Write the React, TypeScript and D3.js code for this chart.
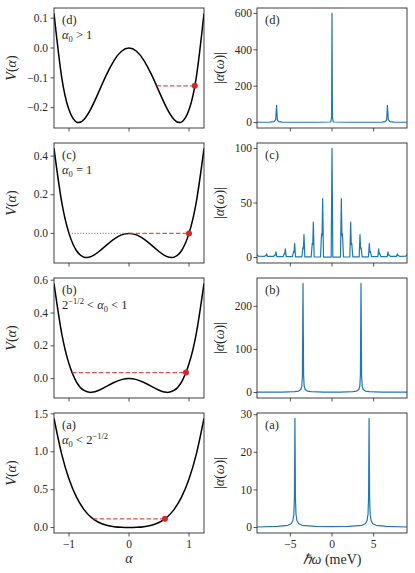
import React from 'react';
import * as d3 from 'd3';

const alphaGrid = [-1.25, -1.125, -1, -0.875, -0.75, -0.625, -0.5, -0.375, -0.25, -0.125, 0,
    0.125, 0.25, 0.375, 0.5, 0.625, 0.75, 0.875, 1, 1.125, 1.25];
const potentialD = [0.1158, -0.094, -0.2071, -0.2483, -0.2395, -0.1999, -0.1455, -0.0895, -0.0422, -0.0109, 0,
    -0.0109, -0.0422, -0.0895, -0.1455, -0.1999, -0.2395, -0.2483, -0.2071, -0.094, 0.1158];
const potentialC = [0.4395, 0.1681, 0, -0.0897, -0.123, -0.119, -0.0938, -0.0604, -0.0293, -0.0077, 0,
    -0.0077, -0.0293, -0.0604, -0.0938, -0.119, -0.123, -0.0897, 0, 0.1681, 0.4395];
const potentialB = [0.5801, 0.282, 0.09, -0.0208, -0.0724, -0.0839, -0.0713, -0.0478, -0.0237, -0.0063, 0,
    -0.0063, -0.0237, -0.0478, -0.0713, -0.0839, -0.0724, -0.0208, 0.09, 0.282, 0.5801];
const potentialA = [1.4395, 0.9781, 0.64, 0.4003, 0.237, 0.131, 0.0663, 0.0296, 0.0107, 0.0023, 0,
    0.0023, 0.0107, 0.0296, 0.0663, 0.131, 0.237, 0.4003, 0.64, 0.9781, 1.4395];
// true minima of the wells (fall between grid samples)
const wellBottoms = [-0.25, -0.125, -0.085, 0];

// energy level (red dashed line) and turning points
const levelEnergy = [-0.127, 0, 0.037, 0.115];
const levelFrom = [0.46, 0, -0.95, -0.6];
const levelTo = [1.097, 1, 0.95, 0.6];

// spectra |alpha(omega)|
const spectrumD: [number, number][] = [
    [-9, 1.5], [-7.4, 2.5], [-6.95, 5], [-6.76, 16], [-6.65, 95], [-6.56, 16], [-6.4, 5], [-6, 2.5],
    [-2, 1.5], [-0.15, 3], [-0.05, 30], [0, 600], [0.05, 30], [0.15, 3], [2, 1.5],
    [6, 2.5], [6.4, 5], [6.56, 16], [6.65, 95], [6.76, 16], [6.95, 5], [7.4, 2.5], [9, 1.5],
];
const spectrumC: [number, number][] = [
    [-9, 2], [-8.96, 2.2], [-8.86, 1.2],
    [-8.1, 1.1], [-7.97, 1.9], [-7.91, 1.7], [-7.84, 3.4], [-7.74, 1],
    [-6.98, 1], [-6.85, 2.5], [-6.79, 2.3], [-6.72, 5.2], [-6.62, 0.9],
    [-5.86, 0.9], [-5.73, 3.6], [-5.67, 3.2], [-5.6, 8], [-5.5, 0.8],
    [-4.74, 0.8], [-4.61, 5.6], [-4.55, 5], [-4.48, 13], [-4.38, 0.7],
    [-3.62, 0.7], [-3.49, 9], [-3.43, 8], [-3.36, 21], [-3.26, 0.6],
    [-2.5, 0.6], [-2.37, 13], [-2.31, 12], [-2.24, 32.5], [-2.14, 0.5],
    [-1.38, 0.5], [-1.25, 22], [-1.19, 20], [-1.12, 54], [-1.02, 0.4],
    [-0.1, 0.4], [0, 100], [0.1, 0.4],
    [1.02, 0.4], [1.12, 54], [1.19, 20], [1.25, 22], [1.38, 0.5],
    [2.14, 0.5], [2.24, 32.5], [2.31, 12], [2.37, 13], [2.5, 0.6],
    [3.26, 0.6], [3.36, 21], [3.43, 8], [3.49, 9], [3.62, 0.7],
    [4.38, 0.7], [4.48, 13], [4.55, 5], [4.61, 5.6], [4.74, 0.8],
    [5.5, 0.8], [5.6, 8], [5.67, 3.2], [5.73, 3.6], [5.86, 0.9],
    [6.62, 0.9], [6.72, 5.2], [6.79, 2.3], [6.85, 2.5], [6.98, 1],
    [7.74, 1], [7.84, 3.4], [7.91, 1.7], [7.97, 1.9], [8.1, 1.1],
    [8.86, 1.2], [8.96, 2.2], [9, 2],
];
const spectrumB: [number, number][] = [
    [-9, 0.8], [-6, 1.2], [-4.5, 2], [-4, 3.5], [-3.75, 7], [-3.62, 15], [-3.55, 40], [-3.48, 253],
    [-3.41, 40], [-3.34, 15], [-3.21, 7], [-2.96, 3.5], [-2.5, 2], [-1, 1.2], [0, 1.1],
    [1, 1.2], [2.5, 2], [2.96, 3.5], [3.21, 7], [3.34, 15], [3.41, 40], [3.48, 253],
    [3.55, 40], [3.62, 15], [3.75, 7], [4, 3.5], [4.5, 2], [6, 1.2], [9, 0.8],
];
const spectrumA: [number, number][] = [
    [-9, 0.15], [-6.5, 0.3], [-5.3, 0.6], [-4.9, 1], [-4.7, 1.8], [-4.58, 3.5], [-4.51, 8], [-4.45, 29],
    [-4.39, 8], [-4.32, 3.5], [-4.2, 1.8], [-4, 1], [-3.6, 0.6], [-2, 0.3], [0, 0.25],
    [2, 0.3], [3.6, 0.6], [4, 1], [4.2, 1.8], [4.32, 3.5], [4.39, 8], [4.45, 29],
    [4.51, 8], [4.58, 3.5], [4.7, 1.8], [4.9, 1], [5.3, 0.6], [6.5, 0.3], [9, 0.15],
];

const panelLetters = ['(d)', '(c)', '(b)', '(a)'];
const potentials = [potentialD, potentialC, potentialB, potentialA];
const spectra = [spectrumD, spectrumC, spectrumB, spectrumA];
const leftTicks = [[-0.2, -0.1, 0, 0.1], [0, 0.2, 0.4], [0, 0.2, 0.4, 0.6], [0, 0.5, 1, 1.5]];
const rightTicks = [[0, 200, 400, 600], [0, 50, 100], [0, 100, 200], [0, 10, 20, 30]];
const alphaTicks = [-1, 0, 1];
const omegaTicks = [-5, 0, 5];

const TXT = { fontFamily: '"Liberation Serif"' };
const RED = '#d62728';
const BLUE = '#1f77b4';
const INK = '#2a2a2a';
const rowTops = [8, 143, 278, 413];
const rowH = 120;
const L = [54, 204];
const R = [257, 407];

const pad = (lo: number, hi: number) => [lo - 0.05 * (hi - lo), hi + 0.05 * (hi - lo)];
const fmt = (v: number, d: number) => v.toFixed(d).replace('-', '\u2212');

const alpha0 = (
    <>
        <tspan fontStyle="italic">α</tspan>
        <tspan fontSize={8.5} dy={2.5}>0</tspan>
        <tspan dy={-2.5}>{' '}</tspan>
    </>
);
const pow = (
    <>
        2<tspan fontSize={8.5} dy={-5}>−1/2</tspan>
        <tspan dy={5}>{' '}</tspan>
    </>
);
const conditions = [
    <>{alpha0}{'> 1'}</>,
    <>{alpha0}{'= 1'}</>,
    <>{pow}{'< '}{alpha0}{'< 1'}</>,
    <>{alpha0}{'< '}{pow}</>,
];

const xAlpha = d3.scaleLinear().domain([-1.25, 1.25]).range(L);
const xOmega = d3.scaleLinear().domain([-9, 9]).range(R);

const Frame = ({ x0, x1, top }: { x0: number; x1: number; top: number }) => (
    <rect x={x0} y={top} width={x1 - x0} height={rowH} fill="none" stroke={INK} strokeWidth={0.9} />
);

const App = () => {
    return (
        <svg width={415} height={573} style={{ position: 'absolute', left: 0, top: 0, background: '#fff' }}>
            {rowTops.map((top, i) => {
                const V = potentials[i];
                const yl = d3.scaleLinear()
                    .domain(pad(Math.min(d3.min(V)!, wellBottoms[i]), d3.max(V)!))
                    .range([top + rowH, top]);
                const curve = d3.line<number>()
                    .x((_, j) => xAlpha(alphaGrid[j]))
                    .y(d => yl(d))
                    .curve(d3.curveNatural)(V);

                const spec = spectra[i];
                const yr = d3.scaleLinear()
                    .domain(pad(0, d3.max(spec, d => d[1])!))
                    .range([top + rowH, top]);
                const specPath = d3.line<[number, number]>()
                    .x(d => xOmega(d[0]))
                    .y(d => yr(d[1]))(spec);

                const lastRow = i === rowTops.length - 1;
                const e = levelEnergy[i];
                return (
                    <g key={i}>
                        <defs>
                            <clipPath id={`cl${i}`}><rect x={L[0]} y={top} width={L[1] - L[0]} height={rowH} /></clipPath>
                            <clipPath id={`cr${i}`}><rect x={R[0]} y={top} width={R[1] - R[0]} height={rowH} /></clipPath>
                        </defs>
                        {/* left: potential */}
                        <path d={curve!} fill="none" stroke="#000" strokeWidth={1.5} clipPath={`url(#cl${i})`} />
                        {i === 1 && (
                            <line x1={xAlpha(-1)} x2={xAlpha(0.05)} y1={yl(e)} y2={yl(e)}
                                stroke={RED} strokeOpacity={0.6} strokeWidth={1.3} strokeDasharray="1.2,1.6" />
                        )}
                        <line x1={xAlpha(levelFrom[i])} x2={xAlpha(levelTo[i])} y1={yl(e)} y2={yl(e)}
                            stroke={RED} strokeOpacity={0.8} strokeWidth={1.3} strokeDasharray="4.5,2.2" />
                        <circle cx={xAlpha(levelTo[i])} cy={yl(e)} r={3} fill={RED} />
                        <Frame x0={L[0]} x1={L[1]} top={top} />
                        {leftTicks[i].map(t => (
                            <g key={t}>
                                <line x1={L[0] - 3.5} x2={L[0]} y1={yl(t)} y2={yl(t)} stroke={INK} strokeWidth={0.8} />
                                <text x={L[0] - 6} y={yl(t) + 3.7} fontSize={11.5} textAnchor="end" fill={INK} style={TXT}>
                                    {fmt(t, 1)}
                                </text>
                            </g>
                        ))}
                        {alphaTicks.map(t => (
                            <g key={t}>
                                <line x1={xAlpha(t)} x2={xAlpha(t)} y1={top + rowH} y2={top + rowH + 3.5} stroke={INK} strokeWidth={0.8} />
                                {lastRow && (
                                    <text x={xAlpha(t)} y={top + rowH + 15} fontSize={11.5} textAnchor="middle" fill={INK} style={TXT}>
                                        {fmt(t, 0)}
                                    </text>
                                )}
                            </g>
                        ))}
                        <text x={62} y={top + 15.5} fontSize={12.5} fill={INK} style={TXT}>{panelLetters[i]}</text>
                        <text x={62} y={top + 31} fontSize={12.5} fill={INK} style={TXT}>{conditions[i]}</text>
                        <text transform={`translate(16,${top + rowH / 2}) rotate(-90)`} fontSize={14}
                            textAnchor="middle" fill={INK} style={TXT}>
                            <tspan fontStyle="italic">V</tspan>(<tspan fontStyle="italic">α</tspan>)
                        </text>

                        {/* right: spectrum */}
                        <path d={specPath!} fill="none" stroke={BLUE} strokeWidth={1.2} strokeLinejoin="round"
                            clipPath={`url(#cr${i})`} />
                        <Frame x0={R[0]} x1={R[1]} top={top} />
                        {rightTicks[i].map(t => (
                            <g key={t}>
                                <line x1={R[0] - 3.5} x2={R[0]} y1={yr(t)} y2={yr(t)} stroke={INK} strokeWidth={0.8} />
                                <text x={R[0] - 5} y={yr(t) + 3.7} fontSize={11.5} textAnchor="end" fill={INK} style={TXT}>{t}</text>
                            </g>
                        ))}
                        {omegaTicks.map(t => (
                            <g key={t}>
                                <line x1={xOmega(t)} x2={xOmega(t)} y1={top + rowH} y2={top + rowH + 3.5} stroke={INK} strokeWidth={0.8} />
                                {lastRow && (
                                    <text x={xOmega(t)} y={top + rowH + 15} fontSize={11.5} textAnchor="middle" fill={INK} style={TXT}>
                                        {fmt(t, 0)}
                                    </text>
                                )}
                            </g>
                        ))}
                        <text x={R[0] + 8} y={top + 15.5} fontSize={12.5} fill={INK} style={TXT}>{panelLetters[i]}</text>
                        <text transform={`translate(224,${top + rowH / 2}) rotate(-90)`} fontSize={14}
                            textAnchor="middle" fill={INK} style={TXT}>
                            |<tspan fontStyle="italic">α</tspan>(<tspan fontStyle="italic">ω</tspan>)|
                        </text>
                    </g>
                );
            })}
            <text x={(L[0] + L[1]) / 2} y={563} fontSize={14} textAnchor="middle" fontStyle="italic" fill={INK} style={TXT}>α</text>
            <text x={(R[0] + R[1]) / 2} y={564} fontSize={14} textAnchor="middle" fill={INK} style={TXT}>
                <tspan fontStyle="italic">ℏω</tspan> (meV)
            </text>
        </svg>
    );
};

export default App;
